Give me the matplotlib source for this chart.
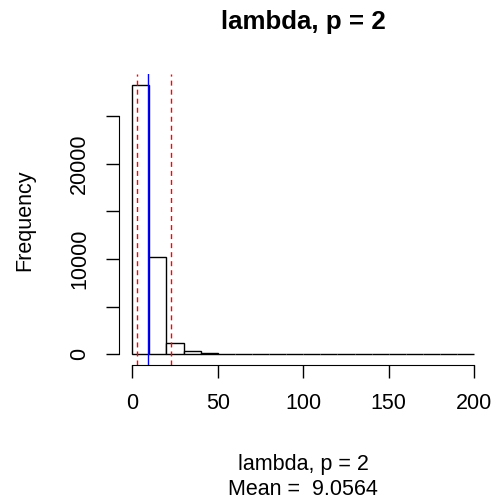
import matplotlib
matplotlib.use("Agg")
import matplotlib.pyplot as plt
import numpy as np

plt.rcParams['font.family'] = ['Liberation Sans', 'DejaVu Sans']

# histograma de lambda, p = 2 (bins de ancho 10)
bin_edges = np.arange(0, 210, 10)
counts = [28290, 10190, 1160, 310, 100, 40, 20, 12, 8, 5,
          4, 3, 2, 2, 1, 1, 1, 1, 0, 1]
mean_val = 9.0564
quantiles = [2.7, 22.5]

y_ticks = [0, 5000, 10000, 15000, 20000, 25000]
y_labels = ["0", "", "10000", "", "20000", ""]
x_ticks = [0, 50, 100, 150, 200]

fs = 15.5      # texto de ejes
fs_main = 18.6 # titulo

fig = plt.figure(figsize=(5, 5.04), dpi=100)
ax = fig.add_axes([0.237, 0.276, 0.739, 0.577])

ax.bar(bin_edges[:-1], counts, width=10, align='edge',
       facecolor='white', edgecolor='black', linewidth=1)

for q in quantiles:
    ax.axvline(q, color='red', linestyle=(0, (3.6, 2.9)), linewidth=1)
ax.axvline(mean_val, color='blue', linewidth=1)

# limites estilo R (4% extra)
ax.set_xlim(-8, 208)
ymax = max(counts)
ax.set_ylim(-0.04 * ymax, 1.04 * ymax)

for s in ['top', 'right']:
    ax.spines[s].set_visible(False)
ax.spines['left'].set_bounds(0, 25000)
ax.spines['bottom'].set_bounds(0, 200)

ax.set_xticks(x_ticks)
ax.set_xticklabels([str(t) for t in x_ticks])
ax.set_yticks(y_ticks)
ax.set_yticklabels(y_labels, rotation=90, va='center')
ax.tick_params(axis='both', length=9.4, width=1, labelsize=fs, pad=11)

fig.text(0.05, 0.5635, "Frequency", rotation=90, ha='center', va='center', fontsize=fs)
fig.text(0.606, 1 - 470 / 504, "lambda, p = 2", ha='center', va='baseline', fontsize=fs)
fig.text(0.606, 1 - 495 / 504, "Mean =  9.0564", ha='center', va='baseline', fontsize=fs)
fig.text(0.606, 1 - 29 / 504, "lambda, p = 2", ha='center', va='baseline',
         fontsize=fs_main, fontweight='bold')

plt.savefig("out.png", dpi=100)
